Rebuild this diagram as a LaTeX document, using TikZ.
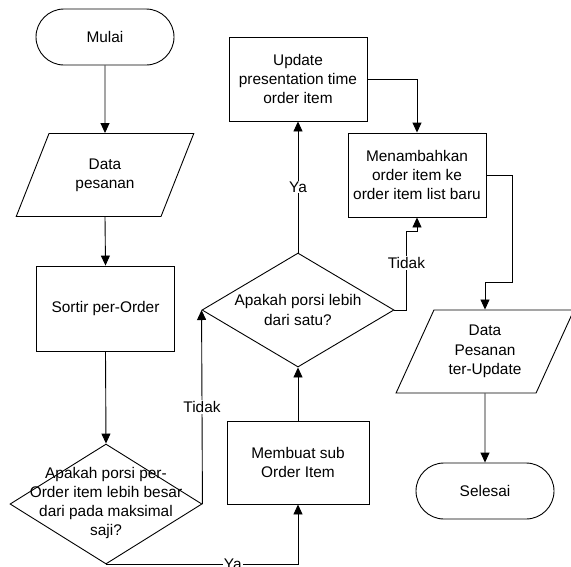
\documentclass[tikz,border=0pt]{standalone}
\usepackage{fontspec}
\setmainfont{Liberation Sans}
\usetikzlibrary{shapes.geometric,arrows.meta}

\begin{document}
\begin{tikzpicture}[x=1pt, y=-1pt, line width=0.9pt, font=\fontsize{15.4}{19.3}\selectfont]
    \tikzset{
      terminal/.style={draw, rectangle, rounded corners=28pt, minimum width=138pt, minimum height=56pt},
      process/.style={draw, rectangle, minimum width=138pt, minimum height=84pt, align=center, inner sep=2pt},
      dataio/.style={draw, trapezium, trapezium left angle=63, trapezium right angle=117, trapezium stretches=true, minimum width=178pt, minimum height=83pt, align=center, inner sep=1pt},
      decision/.style={draw, diamond, minimum width=192pt, minimum height=114pt, inner sep=0pt},
      question/.style={align=center, inner sep=0pt},
      flow/.style={-{Triangle[length=10pt, width=9pt]}},
      answer/.style={fill=white, inner sep=1pt}
    }
    \useasboundingbox (0,0) rectangle (571,566);

    \draw (105,37) node (start) [terminal] {Mulai};
    \draw (105,175) node (data) [dataio] {Data\\pesanan};
    \draw (105.5,308.5) node (sort) [process, minimum height=85pt] {Sortir per-Order};
    \draw (106,504) node (d1) [decision, minimum height=120pt] {};
    \draw (106,503) node (q1) [question] {Apakah porsi per-\\Order item lebih besar\\dari pada maksimal\\saji?};
    \draw (298,462.5) node (make) [process, minimum width=142pt, minimum height=83pt] {Membuat sub\\Order Item};
    \draw (298,310) node (d2) [decision] {};
    \draw (298,310) node (q2) [question] {Apakah porsi lebih\\dari satu?};
    \draw (298,79) node (upd) [process] {Update\\presentation time\\order item};
    \draw (417,175) node (add) [process] {Menambahkan\\order item ke\\order item list baru};
    \draw (485,351.5) node (out) [dataio] {Data\\Pesanan\\ter-Update};
    \draw (485,491) node (stop) [terminal] {Selesai};

    \foreach \from/\to in {start/data, data/sort, sort/d1, out/stop}
      \draw[flow] (\from.south) -- (\to.north);
    \draw[flow] (make.north) -- (d2.south);
    \draw[flow] (d2.north) -- node [answer] {Ya} (upd.south);
    \draw[flow] (d1.east) -- node [answer] {Tidak} (d2.west);
    \draw[flow] (d1.south) -| node [answer, pos=0.33] {Ya} (make.south);
    \draw[flow] (upd.east) -| (add.north);
    \draw[flow] (d2.east) -- ++(12,0) |- node [answer, pos=0.3] {Tidak} ([yshift=-14pt]add.south) -- (add.south);
    \draw[flow] (add.east) -- ++(26,0) |- ([yshift=27pt]out.north) -- (out.north);

  \end{tikzpicture}
\end{document}
